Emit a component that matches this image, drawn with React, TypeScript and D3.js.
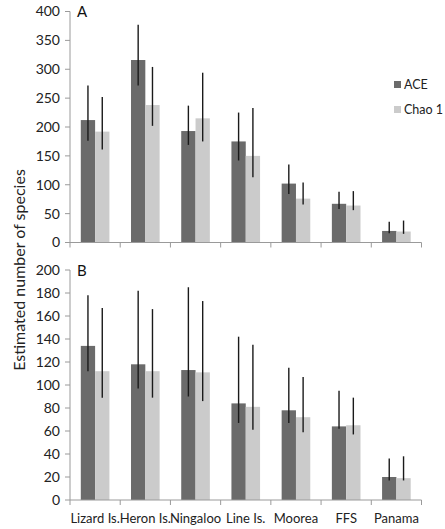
import React from "react";
import * as d3 from "d3";

const categories = ["Lizard Is.", "Heron Is.", "Ningaloo", "Line Is.", "Moorea", "FFS", "Panama"];
const seriesNames = ["ACE", "Chao 1"];

// Panel A
const aceA = [212, 316, 193, 175, 102, 67, 20];
const aceALow = [176, 272, 169, 142, 84, 58, 16];
const aceAHigh = [272, 377, 237, 225, 135, 88, 36];
const chaoA = [192, 238, 215, 150, 76, 64, 19];
const chaoALow = [161, 202, 175, 113, 66, 56, 15];
const chaoAHigh = [252, 304, 294, 233, 104, 89, 38];

// Panel B
const aceB = [134, 118, 113, 84, 78, 64, 20];
const aceBLow = [112, 97, 90, 67, 67, 62, 17];
const aceBHigh = [178, 182, 185, 142, 115, 95, 36];
const chaoB = [112, 112, 111, 81, 72, 65, 19];
const chaoBLow = [89, 89, 86, 61, 59, 57, 17];
const chaoBHigh = [167, 166, 173, 135, 107, 89, 38];

const ticksA = [0, 50, 100, 150, 200, 250, 300, 350, 400];
const ticksB = [0, 20, 40, 60, 80, 100, 120, 140, 160, 180, 200];

const colors = ["#6b6b6b", "#cbcbcb"];
const axisColor = "#9a9a9a";
const font = "Lato, 'Open Sans', sans-serif";

const W = 445;
const H = 529;

const x0 = d3.scaleBand<string>().domain(categories).range([70, 421.5]).paddingInner(0.43).paddingOuter(0.215);
const x1 = d3.scaleBand<string>().domain(seriesNames).range([0, x0.bandwidth()]);
const step = x0.step();
const axisLeft = 70;
const axisRight = 421.5;

type PanelProps = {
  label: string;
  ticks: number[];
  yMax: number;
  yTop: number;
  yBottom: number;
  vals: number[][];
  lows: number[][];
  highs: number[][];
  showLabels: boolean;
};

function Panel({ label, ticks, yMax, yTop, yBottom, vals, lows, highs, showLabels }: PanelProps) {
  const y = d3.scaleLinear().domain([0, yMax]).range([yBottom, yTop]);
  const boundaries = d3.range(categories.length + 1).map((i) => axisLeft + i * step);
  return (
    <g>
      {/* y axis */}
      <line x1={axisLeft} x2={axisLeft} y1={y(yMax)} y2={y(0)} stroke={axisColor} strokeWidth={1} />
      {ticks.map((t) => (
        <g key={t}>
          <line x1={axisLeft - 5} x2={axisLeft} y1={y(t)} y2={y(t)} stroke={axisColor} strokeWidth={1} />
          <text x={60} y={y(t)} dy="0.35em" textAnchor="end" fontFamily={font} fontSize={14} fill="#222">
            {t}
          </text>
        </g>
      ))}
      {/* bars */}
      {categories.map((c, i) => (
        <g key={c} transform={`translate(${x0(c)},0)`}>
          {seriesNames.map((s, j) => (
            <rect
              key={s}
              x={x1(s)}
              y={y(vals[j][i])}
              width={x1.bandwidth()}
              height={y(0) - y(vals[j][i])}
              fill={colors[j]}
            />
          ))}
          {seriesNames.map((s, j) => (
            <line
              key={s + "e"}
              x1={(x1(s) as number) + x1.bandwidth() / 2}
              x2={(x1(s) as number) + x1.bandwidth() / 2}
              y1={y(highs[j][i])}
              y2={y(lows[j][i])}
              stroke="#1a1a1a"
              strokeWidth={1.4}
            />
          ))}
        </g>
      ))}
      {/* x axis */}
      <line x1={axisLeft} x2={axisRight} y1={y(0)} y2={y(0)} stroke={axisColor} strokeWidth={1} />
      {boundaries.map((bx, i) => (
        <line key={i} x1={bx} x2={bx} y1={y(0)} y2={y(0) + 5} stroke={axisColor} strokeWidth={1} />
      ))}
      {showLabels &&
        categories.map((c) => (
          <text
            key={c}
            x={(x0(c) as number) + x0.bandwidth() / 2}
            y={yBottom + 22.5}
            textAnchor="middle"
            fontFamily={font}
            fontSize={13}
            fill="#222"
          >
            {c}
          </text>
        ))}
      <text x={77} y={yTop + 5.5} fontFamily={font} fontSize={15} fill="#111">
        {label}
      </text>
    </g>
  );
}

export default function App() {
  return (
    <svg width={W} height={H} style={{ position: "absolute", left: 0, top: 0, background: "#fff" }}>
      <rect width={W} height={H} fill="#fff" />
      <Panel
        label="A"
        ticks={ticksA}
        yMax={400}
        yTop={11.5}
        yBottom={242.5}
        vals={[aceA, chaoA]}
        lows={[aceALow, chaoALow]}
        highs={[aceAHigh, chaoAHigh]}
        showLabels={false}
      />
      <Panel
        label="B"
        ticks={ticksB}
        yMax={200}
        yTop={270}
        yBottom={500}
        vals={[aceB, chaoB]}
        lows={[aceBLow, chaoBLow]}
        highs={[aceBHigh, chaoBHigh]}
        showLabels={true}
      />
      {/* y title */}
      <text
        transform="translate(25,270) rotate(-90)"
        textAnchor="middle"
        fontFamily={font}
        fontSize={16}
        fill="#222"
      >
        Estimated number of species
      </text>
      {/* legend */}
      {seriesNames.map((s, j) => (
        <g key={s} transform={`translate(394,${81 + j * 25})`}>
          <rect x={0} y={0} width={7} height={7} fill={colors[j]} />
          <text x={10} y={8} fontFamily={font} fontSize={12.5} fill="#222">
            {s}
          </text>
        </g>
      ))}
    </svg>
  );
}
